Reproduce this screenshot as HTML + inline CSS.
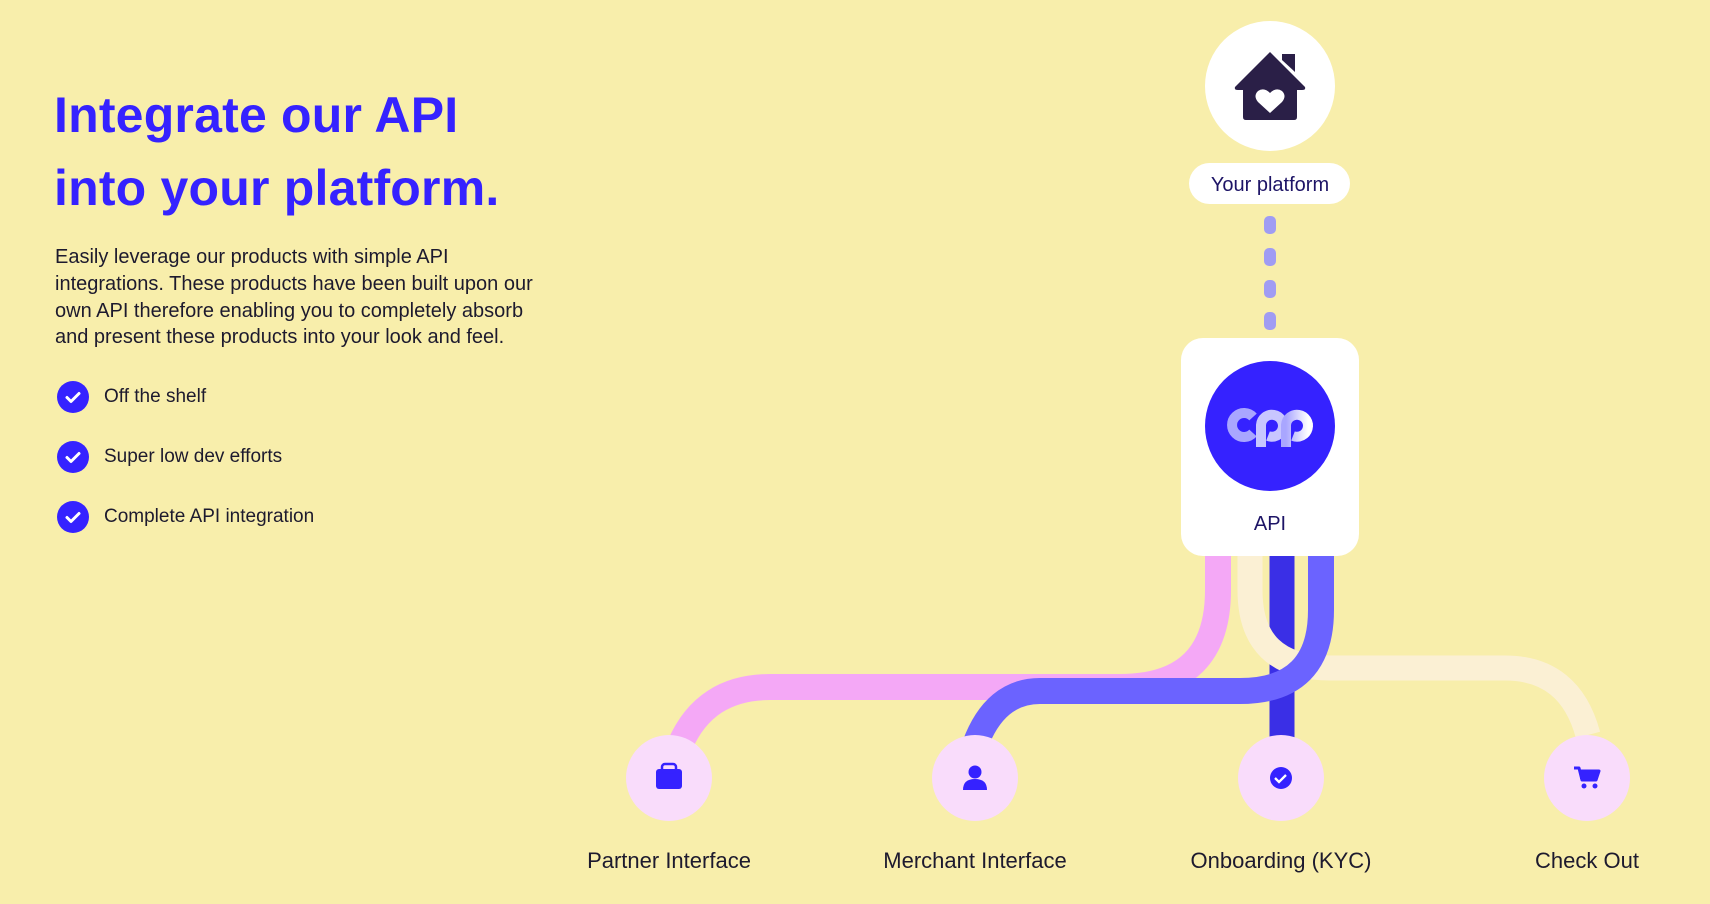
<!DOCTYPE html>
<html><head><meta charset="utf-8"><style>
html,body{margin:0;padding:0;width:1710px;height:904px;overflow:hidden;background:#f8eeab;}
body{position:relative;font-family:"Liberation Sans",sans-serif;}
h1{position:absolute;left:54px;top:79px;margin:0;font-size:50px;line-height:73px;color:#3522ff;font-weight:bold;letter-spacing:0.2px;}
p{position:absolute;left:55px;top:244px;margin:0;font-size:20px;line-height:26.8px;color:#1d1a2e;white-space:nowrap;letter-spacing:0;}
.chk{position:absolute;left:57px;width:32px;height:32px;border-radius:50%;background:#3522ff;}
.chk svg{position:absolute;left:0;top:0}
.ct{position:absolute;left:104px;font-size:19px;color:#1d1a2e;}
</style></head><body>
<h1>Integrate our API<br>into your platform.</h1>
<p>Easily leverage our products with simple API<br>integrations. These products have been built upon our<br>own API therefore enabling you to completely absorb<br>and present these products into your look and feel.</p>
<div class="chk" style="top:381px"><svg width="32" height="32"><path d="M10 16.5l4 4 8-8" stroke="#fff" stroke-width="3" fill="none" stroke-linecap="round" stroke-linejoin="round"/></svg></div>
<div class="ct" style="top:386px">Off the shelf</div>
<div class="chk" style="top:441px"><svg width="32" height="32"><path d="M10 16.5l4 4 8-8" stroke="#fff" stroke-width="3" fill="none" stroke-linecap="round" stroke-linejoin="round"/></svg></div>
<div class="ct" style="top:446px">Super low dev efforts</div>
<div class="chk" style="top:501px"><svg width="32" height="32"><path d="M10 16.5l4 4 8-8" stroke="#fff" stroke-width="3" fill="none" stroke-linecap="round" stroke-linejoin="round"/></svg></div>
<div class="ct" style="top:506px">Complete API integration</div>

<svg width="1710" height="904" style="position:absolute;left:0;top:0" xmlns="http://www.w3.org/2000/svg">
<defs>
<linearGradient id="lg" x1="0" x2="1"><stop offset="0" stop-color="#a9a6ff"/><stop offset="1" stop-color="#ffffff"/></linearGradient>
</defs>
<path d="M1282 540 V760" stroke="#3a2fe6" stroke-width="25" fill="none"/>
<path d="M1218 540 V590 Q1218 687 1120 687 H770 Q705 687 680 745" stroke="#f4a8f6" stroke-width="26" fill="none"/>
<path d="M1250 540 V590 Q1250 668 1330 668 H1505 Q1570 668 1588 735" stroke="#fbf0d4" stroke-width="25" fill="none"/>
<path d="M1321 540 V610 Q1321 691 1240 691 H1040 Q995 691 975 745" stroke="#6b63ff" stroke-width="26" fill="none"/>
<g fill="#a09cf3">
<rect x="1264" y="216" width="12" height="18" rx="5"/>
<rect x="1264" y="248" width="12" height="18" rx="5"/>
<rect x="1264" y="280" width="12" height="18" rx="5"/>
<rect x="1264" y="312" width="12" height="18" rx="5"/>
</g>
<circle cx="1270" cy="86" r="65" fill="#fff"/>
<path d="M1282 54 H1295 V72 L1282 60 Z" fill="#2a1f47"/>
<path d="M1270 52 L1235 87 Q1234 90 1238 90 H1243 V117 Q1243 120 1246 120 H1294 Q1297 120 1297 117 V90 H1302 Q1306 90 1305 87 Z" fill="#2a1f47"/>
<path d="M1270 113 L1258 102 Q1253 96 1258 91 Q1264 87 1270 93 Q1276 87 1282 91 Q1287 96 1282 102 Z" fill="#fff"/>
<rect x="1189" y="163" width="161" height="41" rx="20.5" fill="#fff"/>
<text x="1270" y="191" text-anchor="middle" font-family="Liberation Sans, sans-serif" font-size="20" fill="#1d1466">Your platform</text>
<rect x="1181" y="338" width="178" height="218" rx="22" fill="#fff"/>
<circle cx="1270" cy="426" r="65" fill="#3522ff"/>
<g fill="none" stroke-width="10">
<path d="M1253 417 A12 12 0 1 0 1253 433" stroke="#a9a6ff"/>
<path d="M1261 447 V425 A11 11 0 1 1 1268 436" stroke="#c8c6ff"/>
<path d="M1286 447 V425 A11 11 0 1 1 1293 436" stroke="url(#lg)"/>
</g>
<text x="1270" y="530" text-anchor="middle" font-family="Liberation Sans, sans-serif" font-size="20" fill="#1d1466">API</text>
<g fill="#f9dcfb">
<circle cx="669" cy="778" r="43"/><circle cx="975" cy="778" r="43"/>
<circle cx="1281" cy="778" r="43"/><circle cx="1587" cy="778" r="43"/>
</g>
<g fill="#3522ff">
<rect x="656" y="769" width="26" height="20" rx="3"/>
<rect x="662" y="764" width="14" height="8" rx="3" fill="none" stroke="#3522ff" stroke-width="2.5"/>
<circle cx="975" cy="772" r="6.5"/>
<path d="M963 790 Q963 779 975 779 Q987 779 987 790 Z"/>
<circle cx="1281" cy="778" r="11"/>
<path d="M1275 778 l4 4 7-7" stroke="#fff" stroke-width="2.3" fill="none"/>
<path d="M1574 768 h5 l3 12 h14 l3-9 h-18" stroke="#3522ff" stroke-width="3" fill="none" stroke-linejoin="round"/>
<rect x="1580" y="771" width="18" height="8"/>
<circle cx="1584" cy="786" r="2.5"/><circle cx="1595" cy="786" r="2.5"/>
</g>
<g font-family="Liberation Sans, sans-serif" font-size="22" fill="#1d1a2e" text-anchor="middle">
<text x="669" y="868">Partner Interface</text>
<text x="975" y="868">Merchant Interface</text>
<text x="1281" y="868">Onboarding (KYC)</text>
<text x="1587" y="868">Check Out</text>
</g>
</svg>
</body></html>
